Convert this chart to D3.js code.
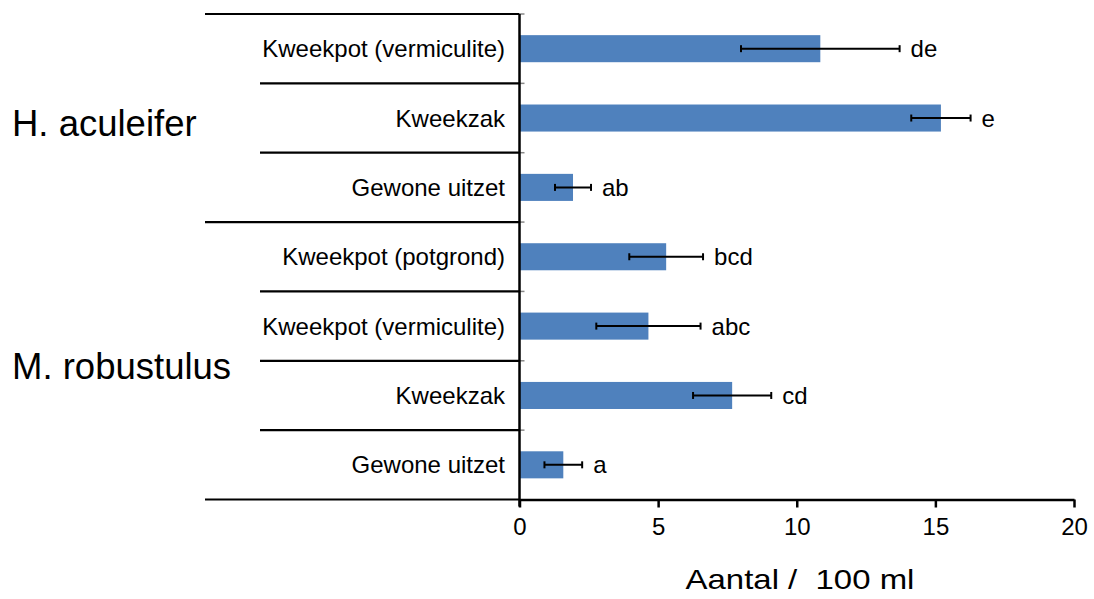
<!DOCTYPE html>
<html>
<head>
<meta charset="utf-8">
<script src="https://cdn.jsdelivr.net/npm/d3@7"></script>
<style>
  html, body { margin: 0; padding: 0; background: #fff; }
  svg { display: block; font-family: "Liberation Sans", Arial, sans-serif; }
</style>
</head>
<body>
<svg id="chart" width="1094" height="599"></svg>
<script>
// ---- data ----
const categories = ["Kweekpot (vermiculite)", "Kweekzak", "Gewone uitzet",
                    "Kweekpot (potgrond)", "Kweekpot (vermiculite)", "Kweekzak", "Gewone uitzet"];
const groups = ["H. aculeifer", "H. aculeifer", "H. aculeifer",
                "M. robustulus", "M. robustulus", "M. robustulus", "M. robustulus"];
const groupNames = ["H. aculeifer", "M. robustulus"];
const values = [10.85, 15.2, 1.93, 5.29, 4.65, 7.67, 1.58];
const errors = [2.86, 1.07, 0.65, 1.33, 1.88, 1.41, 0.68];
const letters = ["de", "e", "ab", "bcd", "abc", "cd", "a"];
const xTicks = [0, 5, 10, 15, 20];
const xTitle = "Aantal /  100 ml";

// ---- layout ----
const svg = d3.select("#chart");
const plotL = 519.5, plotR = 1074, plotT = 14, plotB = 499.5;
const rows = d3.range(categories.length);

const x = d3.scaleLinear().domain([0, 20]).range([plotL, plotR]);
const y = d3.scaleBand().domain(rows).range([plotT, plotB]).paddingInner(0).paddingOuter(0);
const bw = y.bandwidth();
const barH = bw * 0.39;
const blue = "#4f81bd";

// separators between rows
const sepG = svg.append("g");
rows.forEach(i => {
  if (i === 0) return;
  const isGroupBoundary = groups[i] !== groups[i - 1];
  sepG.append("line")
    .attr("x1", isGroupBoundary ? 205 : 260).attr("x2", plotL)
    .attr("y1", y(i)).attr("y2", y(i))
    .attr("stroke", "#000").attr("stroke-width", 2.2);
  sepG.append("line")
    .attr("x1", plotL).attr("x2", plotL + 5)
    .attr("y1", y(i)).attr("y2", y(i))
    .attr("stroke", "#888").attr("stroke-width", 1.5);
});
// top & bottom outer lines
sepG.append("line").attr("x1", 205).attr("x2", plotL).attr("y1", plotT).attr("y2", plotT)
  .attr("stroke", "#000").attr("stroke-width", 2.2);
sepG.append("line").attr("x1", plotL).attr("x2", plotL + 5).attr("y1", plotT).attr("y2", plotT)
  .attr("stroke", "#888").attr("stroke-width", 1.5);
sepG.append("line").attr("x1", 205).attr("x2", plotL).attr("y1", plotB).attr("y2", plotB)
  .attr("stroke", "#000").attr("stroke-width", 2.2);

// bars
svg.append("g").selectAll("rect").data(rows).join("rect")
  .attr("x", x(0))
  .attr("y", i => y(i) + (bw - barH) / 2)
  .attr("width", i => x(values[i]) - x(0))
  .attr("height", barH)
  .attr("fill", blue);

// error bars
const eg = svg.append("g").attr("stroke", "#000").attr("stroke-width", 2);
rows.forEach(i => {
  const cy = y(i) + bw / 2;
  const lo = x(values[i] - errors[i]), hi = x(values[i] + errors[i]);
  eg.append("line").attr("x1", lo).attr("x2", hi).attr("y1", cy).attr("y2", cy);
  eg.append("line").attr("x1", lo).attr("x2", lo).attr("y1", cy - 3.5).attr("y2", cy + 3.5);
  eg.append("line").attr("x1", hi).attr("x2", hi).attr("y1", cy - 3.5).attr("y2", cy + 3.5);
});

// significance letters
svg.append("g").selectAll("text").data(rows).join("text")
  .attr("x", i => x(values[i] + errors[i]) + 11)
  .attr("y", i => y(i) + bw / 2 + 8.5)
  .attr("font-size", 24)
  .attr("fill", "#000")
  .text(i => letters[i]);

// category labels
svg.append("g").selectAll("text").data(rows).join("text")
  .attr("x", 505)
  .attr("y", i => y(i) + bw / 2 + 8.5)
  .attr("text-anchor", "end")
  .attr("font-size", 24)
  .attr("fill", "#000")
  .text(i => categories[i]);

// group labels
groupNames.forEach(g => {
  const idx = rows.filter(i => groups[i] === g);
  const y0 = y(idx[0]), y1 = y(idx[idx.length - 1]) + bw;
  svg.append("text")
    .attr("x", 12)
    .attr("y", (y0 + y1) / 2 + 18)
    .attr("font-size", 36.5)
    .attr("fill", "#000")
    .text(g);
});

// y axis line
svg.append("line").attr("x1", plotL).attr("x2", plotL).attr("y1", plotT).attr("y2", plotB + 7)
  .attr("stroke", "#000").attr("stroke-width", 2.5);

// x axis
const xAxis = d3.axisBottom(x).tickValues(xTicks).tickSize(8).tickSizeOuter(0).tickPadding(10)
  .tickFormat(d3.format("d"));
const xa = svg.append("g").attr("transform", `translate(0,${plotB})`).call(xAxis);
xa.select(".domain").attr("stroke", "#000").attr("stroke-width", 2.5);
xa.selectAll(".tick line").attr("stroke", "#000").attr("stroke-width", 2.5);
xa.selectAll(".tick text").attr("font-size", 24).attr("fill", "#000")
  .attr("font-family", "Liberation Sans, Arial, sans-serif");

// x title
svg.append("text")
  .attr("transform", "translate(800,589) scale(1.22,1)")
  .attr("text-anchor", "middle")
  .attr("font-size", 27)
  .attr("fill", "#000")
  .style("white-space", "pre")
  .text(xTitle);
</script>
</body>
</html>
